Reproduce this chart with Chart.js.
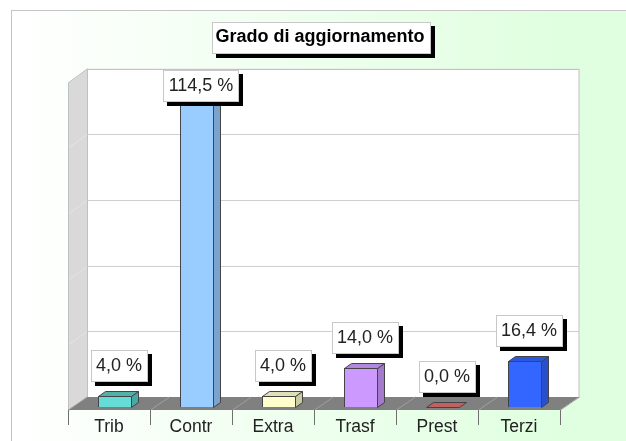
<!DOCTYPE html>
<html>
<head>
<meta charset="utf-8">
<title>Grado di aggiornamento</title>
<script src="https://cdn.jsdelivr.net/npm/chart.js@4"></script>
<style>
  html, body { margin: 0; padding: 0; background: #fff; }
  canvas { display: block; }
</style>
</head>
<body>
<canvas id="gradoChart" width="626" height="441"></canvas>
<script>
const categories = ['Trib', 'Contr', 'Extra', 'Trasf', 'Prest', 'Terzi'];
const values = [4.0, 114.5, 4.0, 14.0, 0.0, 16.4];
const frontColors = ['#66dcd6', '#99ccff', '#ffffcc', '#cc99ff', '#cc6666', '#3366ff'];
const sideColors = ['#48a8a4', '#7ba3cc', '#cccca3', '#a37acc', '#a35252', '#2850cc'];
const topColors = ['#52b0ab', '#8ab8e6', '#e0e0b8', '#b088dd', '#c06060', '#2c58dd'];
const axisMax = 117;
const axisStep = 23.4;

const FONT = '"Liberation Sans", Arial, sans-serif';
// bars stand in the middle of the floor, these move from their plane to the others
const toFront = { x: -6, y: 3 };
const toBack = { x: 13, y: -10 };
const barDepth = { x: 7, y: 5 };

function poly(ctx, pts, fill, stroke) {
  ctx.beginPath();
  pts.forEach((p, i) => i ? ctx.lineTo(p[0], p[1]) : ctx.moveTo(p[0], p[1]));
  ctx.closePath();
  if (fill) { ctx.fillStyle = fill; ctx.fill(); }
  if (stroke) { ctx.strokeStyle = stroke; ctx.lineWidth = 1; ctx.stroke(); }
}

function shadowBox(ctx, x, y, w, h) {
  ctx.fillStyle = '#000';
  ctx.fillRect(x + 4, y + 4, w, h);
  ctx.fillStyle = '#fff';
  ctx.fillRect(x, y, w, h);
  ctx.strokeStyle = '#c8c8c8';
  ctx.lineWidth = 1;
  ctx.strokeRect(x + 0.5, y + 0.5, w - 1, h - 1);
}

const scene = {
  id: 'scene',
  beforeDraw(chart) {
    const ctx = chart.ctx;
    const { left, right, top, bottom } = chart.chartArea;
    const x = chart.scales.x;
    const y = chart.scales.y;

    // page background and frame
    const bg = ctx.createLinearGradient(11, 0, 560, 0);
    bg.addColorStop(0, '#ffffff');
    bg.addColorStop(1, '#e0ffe0');
    ctx.fillStyle = '#fff';
    ctx.fillRect(0, 0, chart.width, chart.height);
    ctx.fillStyle = bg;
    ctx.fillRect(11, 10, chart.width - 11, chart.height - 10);
    ctx.fillStyle = '#c4c4c4';
    ctx.fillRect(11, 10, chart.width - 11, 1);
    ctx.fillRect(11, 10, 1, chart.height - 10);

    // title box, the title itself is drawn by the library
    shadowBox(ctx, 212, 22, 219, 32);

    const fl = left + toFront.x, fr = right + toFront.x, fb = bottom + toFront.y;
    const bl = left + toBack.x, br = right + toBack.x;
    const bb = bottom + toBack.y, bt = top + toBack.y;

    // walls
    poly(ctx, [[bl, bt], [br, bt], [br, bb], [bl, bb]], '#ffffff');
    poly(ctx, [[fl, bt + 14], [bl, bt], [bl, bb], [fl, fb]], '#d9d9d9');

    // gridlines
    ctx.lineWidth = 1;
    y.ticks.forEach(t => {
      const py = Math.round(y.getPixelForValue(t.value) + toBack.y) + 0.5;
      ctx.strokeStyle = '#cfcfcf';
      ctx.beginPath();
      ctx.moveTo(bl, py);
      ctx.lineTo(br, py);
      ctx.stroke();
      ctx.strokeStyle = '#e4e4e4';
      ctx.beginPath();
      ctx.moveTo(bl, py);
      ctx.lineTo(fl, py + 14);
      ctx.stroke();
    });
    ctx.strokeStyle = '#c0c0c0';
    ctx.strokeRect(bl + 0.5, bt + 0.5, br - bl - 0.5, bb - bt);
    ctx.beginPath();
    ctx.moveTo(fl + 0.5, bt + 14);
    ctx.lineTo(bl + 0.5, bt);
    ctx.moveTo(fl + 0.5, bt + 14);
    ctx.lineTo(fl + 0.5, fb);
    ctx.stroke();

    // floor with its dividers and the tick marks under it
    poly(ctx, [[fl, fb], [bl, bb], [br, bb], [fr, fb]], '#808080');
    for (let i = 0; i <= categories.length; i++) {
      const tx = Math.round(x.getPixelForValue(i - 0.5)) + toFront.x + 0.5;
      ctx.strokeStyle = '#a0a0a0';
      ctx.beginPath();
      ctx.moveTo(tx, fb);
      ctx.lineTo(tx + toBack.x - toFront.x, bb);
      ctx.stroke();
      ctx.strokeStyle = '#707070';
      ctx.beginPath();
      ctx.moveTo(tx, fb);
      ctx.lineTo(tx, fb + 15);
      ctx.stroke();
    }
  },
  afterDatasetsDraw(chart) {
    const ctx = chart.ctx;
    const bars = chart.getDatasetMeta(0).data;

    // side and top faces taken from each bar element
    bars.forEach((bar, i) => {
      const half = bar.width / 2;
      const l = Math.round(bar.x - half) + 0.5, r = Math.round(bar.x + half) - 0.5;
      const t = Math.round(bar.y) + 0.5, b = Math.round(bar.base) + 0.5;
      const d = barDepth;
      if (values[i] > 0) {
        poly(ctx, [[r, t], [r + d.x, t - d.y], [r + d.x, b - d.y], [r, b]], sideColors[i], '#444');
      }
      poly(ctx, [[l, t], [l + d.x, t - d.y], [r + d.x, t - d.y], [r, t]], topColors[i], '#444');
    });

    // value boxes, the tall bar's box stops under the wall top
    ctx.font = '18px ' + FONT;
    ctx.textAlign = 'center';
    ctx.textBaseline = 'middle';
    bars.forEach((bar, i) => {
      const text = values[i].toFixed(1).replace('.', ',') + ' %';
      const w = Math.round(ctx.measureText(text).width) + 11;
      const h = 32;
      const cx = bar.x + 4;
      const boxTop = Math.max(70, Math.round(bar.y) - 14 - h);
      shadowBox(ctx, Math.round(cx - w / 2), boxTop, w, h);
      ctx.fillStyle = '#222';
      ctx.fillText(text, cx, boxTop + h / 2);
    });
  }
};

new Chart(document.getElementById('gradoChart'), {
  type: 'bar',
  data: {
    labels: categories,
    datasets: [{
      data: values,
      backgroundColor: frontColors,
      borderColor: '#444',
      borderWidth: 1,
      barPercentage: 0.415,
      categoryPercentage: 1
    }]
  },
  options: {
    responsive: false,
    animation: false,
    layout: { padding: { left: 74, right: 60, top: 0, bottom: 0 } },
    scales: {
      x: {
        grid: { display: false },
        border: { display: false },
        afterFit(s) { s.height = 34; },
        ticks: {
          padding: 2,
          labelOffset: -6,
          maxRotation: 0,
          color: '#222',
          font: { family: FONT, size: 17.5 }
        }
      },
      y: {
        display: false,
        min: 0,
        max: axisMax,
        ticks: { stepSize: axisStep }
      }
    },
    plugins: {
      legend: { display: false },
      tooltip: { enabled: false },
      title: {
        display: true,
        text: 'Grado di aggiornamento',
        fullSize: false,
        color: '#000',
        font: { family: FONT, size: 18, weight: 'bold' },
        padding: { top: 26, bottom: 31.2 }
      }
    }
  },
  plugins: [scene]
});
</script>
</body>
</html>
